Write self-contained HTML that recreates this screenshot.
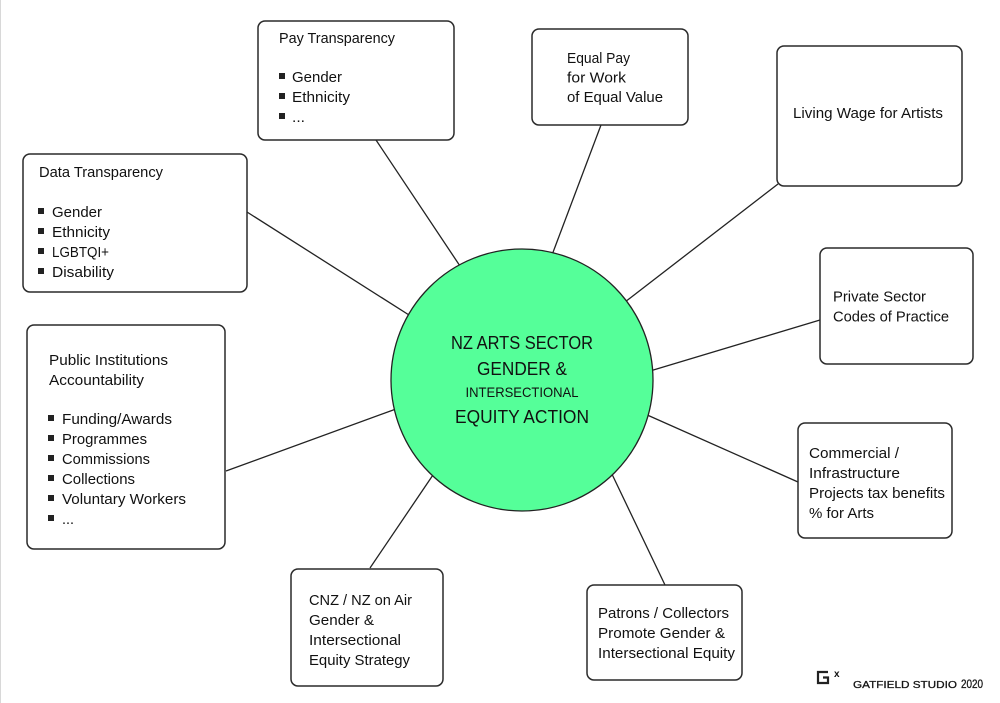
<!DOCTYPE html>
<html>
<head>
<meta charset="utf-8">
<style>
html,body{margin:0;padding:0;background:#fff;}
svg{display:block;}
text{font-family:"Liberation Sans",sans-serif;fill:#111;}
</style>
</head>
<body>
<svg width="1000" height="703" viewBox="0 0 1000 703" xmlns="http://www.w3.org/2000/svg">
<rect x="0" y="0" width="1000" height="703" fill="#fff"/>
<line x1="0.5" y1="0" x2="0.5" y2="703" stroke="#d8d8d8" stroke-width="1"/>

<!-- connectors -->
<g stroke="#222" stroke-width="1.3" fill="none">
<line x1="376" y1="140" x2="460" y2="266"/>
<line x1="601" y1="125" x2="552" y2="255"/>
<line x1="778" y1="184" x2="625" y2="302"/>
<line x1="820" y1="320" x2="650" y2="371"/>
<line x1="798" y1="482" x2="645" y2="414"/>
<line x1="665" y1="585" x2="610" y2="470"/>
<line x1="370" y1="568" x2="435" y2="472"/>
<line x1="226" y1="471" x2="396" y2="409"/>
<line x1="247" y1="212" x2="409" y2="315"/>
</g>

<!-- center circle -->
<circle cx="522" cy="380" r="131" fill="#55FF99" stroke="#222" stroke-width="1.3"/>
<g text-anchor="middle">
<text x="522" y="349" font-size="18.5" textLength="142" lengthAdjust="spacingAndGlyphs">NZ ARTS SECTOR</text>
<text x="522" y="375" font-size="18.5" textLength="90" lengthAdjust="spacingAndGlyphs">GENDER &amp;</text>
<text x="522" y="397" font-size="14" textLength="113" lengthAdjust="spacingAndGlyphs">INTERSECTIONAL</text>
<text x="522" y="423" font-size="18.5" textLength="134" lengthAdjust="spacingAndGlyphs">EQUITY ACTION</text>
</g>

<!-- boxes -->
<g fill="#fff" stroke="#2a2a2a" stroke-width="1.5">
<rect x="258" y="21" width="196" height="119" rx="7"/>
<rect x="532" y="29" width="156" height="96" rx="7"/>
<rect x="777" y="46" width="185" height="140" rx="7"/>
<rect x="820" y="248" width="153" height="116" rx="7"/>
<rect x="798" y="423" width="154" height="115" rx="7"/>
<rect x="587" y="585" width="155" height="95" rx="7"/>
<rect x="291" y="569" width="152" height="117" rx="7"/>
<rect x="27" y="325" width="198" height="224" rx="7"/>
<rect x="23" y="154" width="224" height="138" rx="7"/>
</g>

<g font-size="15">
<!-- Pay Transparency -->
<text x="279" y="43" textLength="116" lengthAdjust="spacingAndGlyphs">Pay Transparency</text>
<text x="292" y="82" textLength="50" lengthAdjust="spacingAndGlyphs">Gender</text>
<text x="292" y="102" textLength="58" lengthAdjust="spacingAndGlyphs">Ethnicity</text>
<text x="292" y="122" textLength="13" lengthAdjust="spacingAndGlyphs">...</text>

<!-- Equal Pay -->
<text x="567" y="63" textLength="63" lengthAdjust="spacingAndGlyphs">Equal Pay</text>
<text x="567" y="82.5" textLength="59" lengthAdjust="spacingAndGlyphs">for Work</text>
<text x="567" y="102" textLength="96" lengthAdjust="spacingAndGlyphs">of Equal Value</text>

<!-- Living Wage -->
<text x="793" y="118" textLength="150" lengthAdjust="spacingAndGlyphs">Living Wage for Artists</text>

<!-- Private Sector -->
<text x="833" y="301.5" textLength="93" lengthAdjust="spacingAndGlyphs">Private Sector</text>
<text x="833" y="321.5" textLength="116" lengthAdjust="spacingAndGlyphs">Codes of Practice</text>

<!-- Commercial -->
<text x="809" y="458" textLength="90" lengthAdjust="spacingAndGlyphs">Commercial /</text>
<text x="809" y="478" textLength="91" lengthAdjust="spacingAndGlyphs">Infrastructure</text>
<text x="809" y="498" textLength="136" lengthAdjust="spacingAndGlyphs">Projects tax benefits</text>
<text x="809" y="518" textLength="65" lengthAdjust="spacingAndGlyphs">% for Arts</text>

<!-- Patrons -->
<text x="598" y="618" textLength="131" lengthAdjust="spacingAndGlyphs">Patrons / Collectors</text>
<text x="598" y="638" textLength="127" lengthAdjust="spacingAndGlyphs">Promote Gender &amp;</text>
<text x="598" y="658" textLength="137" lengthAdjust="spacingAndGlyphs">Intersectional Equity</text>

<!-- CNZ -->
<text x="309" y="605" textLength="103" lengthAdjust="spacingAndGlyphs">CNZ / NZ on Air</text>
<text x="309" y="625" textLength="65" lengthAdjust="spacingAndGlyphs">Gender &amp;</text>
<text x="309" y="645" textLength="92" lengthAdjust="spacingAndGlyphs">Intersectional</text>
<text x="309" y="665" textLength="101" lengthAdjust="spacingAndGlyphs">Equity Strategy</text>

<!-- Public Institutions -->
<text x="49" y="365" textLength="119" lengthAdjust="spacingAndGlyphs">Public Institutions</text>
<text x="49" y="385" textLength="95" lengthAdjust="spacingAndGlyphs">Accountability</text>
<text x="62" y="424" textLength="110" lengthAdjust="spacingAndGlyphs">Funding/Awards</text>
<text x="62" y="444" textLength="85" lengthAdjust="spacingAndGlyphs">Programmes</text>
<text x="62" y="464" textLength="88" lengthAdjust="spacingAndGlyphs">Commissions</text>
<text x="62" y="484" textLength="73" lengthAdjust="spacingAndGlyphs">Collections</text>
<text x="62" y="504" textLength="124" lengthAdjust="spacingAndGlyphs">Voluntary Workers</text>
<text x="62" y="524" textLength="12" lengthAdjust="spacingAndGlyphs">...</text>

<!-- Data Transparency -->
<text x="39" y="177" textLength="124" lengthAdjust="spacingAndGlyphs">Data Transparency</text>
<text x="52" y="217" textLength="50" lengthAdjust="spacingAndGlyphs">Gender</text>
<text x="52" y="237" textLength="58" lengthAdjust="spacingAndGlyphs">Ethnicity</text>
<text x="52" y="257" textLength="57" lengthAdjust="spacingAndGlyphs">LGBTQI+</text>
<text x="52" y="277" textLength="62" lengthAdjust="spacingAndGlyphs">Disability</text>
</g>

<!-- bullets -->
<g fill="#222">
<rect x="279" y="73" width="6" height="6"/>
<rect x="279" y="93" width="6" height="6"/>
<rect x="279" y="113" width="6" height="6"/>

<rect x="48" y="415" width="6" height="6"/>
<rect x="48" y="435" width="6" height="6"/>
<rect x="48" y="455" width="6" height="6"/>
<rect x="48" y="475" width="6" height="6"/>
<rect x="48" y="495" width="6" height="6"/>
<rect x="48" y="515" width="6" height="6"/>

<rect x="38" y="208" width="6" height="6"/>
<rect x="38" y="228" width="6" height="6"/>
<rect x="38" y="248" width="6" height="6"/>
<rect x="38" y="268" width="6" height="6"/>
</g>

<!-- logo -->
<path d="M828 672 H818 V683 H828 V677.5 H823" fill="none" stroke="#222" stroke-width="2.2"/>
<text x="834" y="677" font-size="10" font-weight="bold" fill="#222">x</text>
<text x="853" y="688" font-size="10" textLength="104" lengthAdjust="spacingAndGlyphs" fill="#222" stroke="#222" stroke-width="0.3">GATFIELD STUDIO</text>
<text x="961" y="688" font-size="11.5" textLength="22" lengthAdjust="spacingAndGlyphs" fill="#222" stroke="#222" stroke-width="0.3">2020</text>
</svg>
</body>
</html>
